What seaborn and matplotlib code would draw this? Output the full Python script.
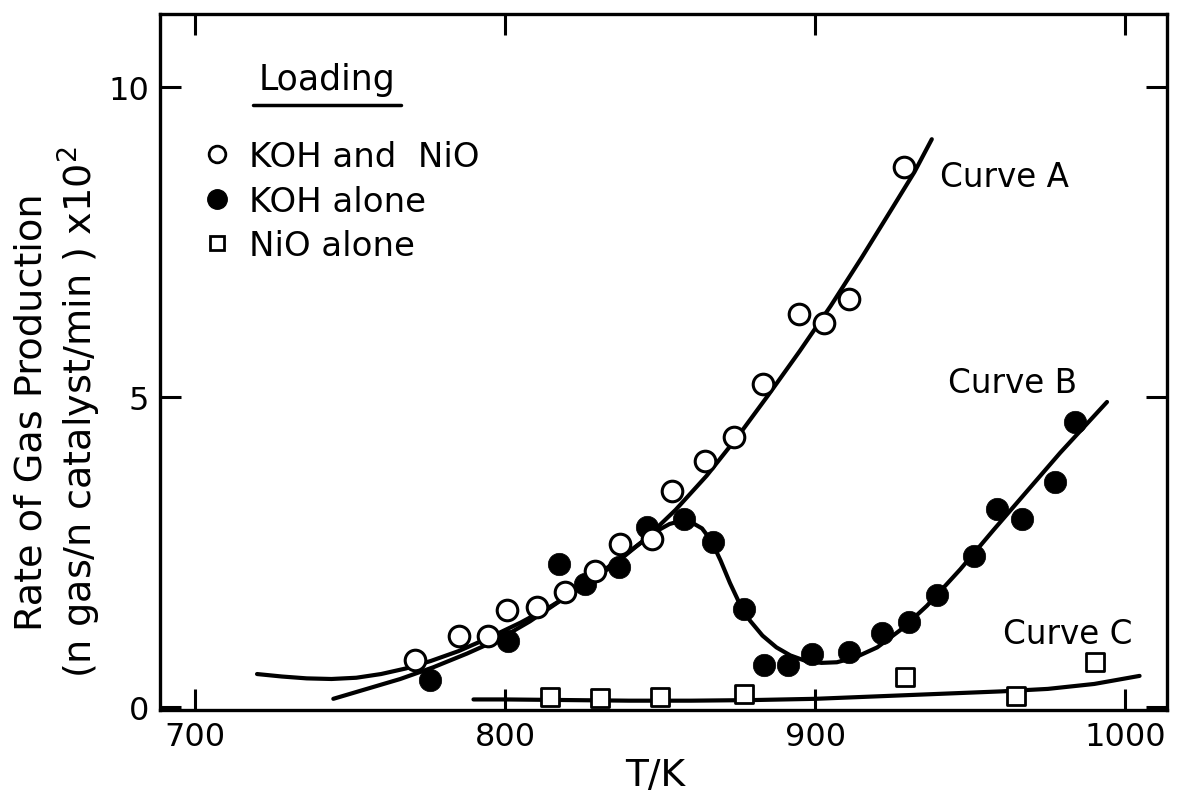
import matplotlib
matplotlib.use("Agg")
import matplotlib.pyplot as plt
import seaborn as sns
from matplotlib.lines import Line2D

# ---------------- data ----------------
koh_nio_t = [771.0, 785.1, 794.6, 800.7, 810.2, 819.4, 829.0, 837.1, 847.3,
             853.7, 864.5, 873.7, 883.3, 894.7, 902.7, 910.8, 928.5]
koh_nio_rate = [0.75, 1.14, 1.15, 1.57, 1.61, 1.85, 2.20, 2.63, 2.71,
                3.49, 3.97, 4.35, 5.21, 6.34, 6.20, 6.58, 8.71]

koh_t = [775.8, 800.9, 817.3, 825.8, 836.6, 845.7, 857.6, 867.2, 876.9,
         883.6, 891.3, 898.9, 910.8, 921.5, 930.1, 939.2, 951.1, 958.6,
         966.7, 977.4, 983.9]
koh_rate = [0.44, 1.06, 2.31, 1.99, 2.25, 2.90, 3.03, 2.66, 1.58,
            0.67, 0.67, 0.86, 0.88, 1.20, 1.37, 1.80, 2.44, 3.20,
            3.03, 3.63, 4.59]

nio_t = [814.5, 830.7, 850.0, 876.9, 929.1, 964.6, 990.3]
nio_rate = [0.16, 0.15, 0.16, 0.21, 0.48, 0.18, 0.72]

# fitted curves as traced on the figure
curve_a_t = [720, 728, 736, 744, 752, 760, 768, 776, 785, 795, 805, 815,
             825, 835, 845, 855, 865, 875, 885, 895, 905, 915, 925, 932, 937.6]
curve_a_rate = [0.53, 0.49, 0.46, 0.45, 0.47, 0.53, 0.62, 0.74, 0.90, 1.12,
                1.36, 1.63, 1.94, 2.29, 2.70, 3.18, 3.73, 4.36, 5.04, 5.74,
                6.47, 7.25, 8.06, 8.63, 9.16]

curve_b_t = [744.6, 755.4, 766.2, 776.9, 787.7, 798.4, 808.0, 818.0, 828.0,
             836.0, 843.6, 849.0, 853.0, 856.5, 860.0, 863.5, 866.5, 869.5,
             872.5, 875.5, 879.0, 883.0, 887.5, 892.0, 897.0, 902.0, 907.0,
             913.0, 920.0, 928.0, 936.0, 946.8, 957.6, 968.3, 979.0, 994.1]
curve_b_rate = [0.13, 0.29, 0.45, 0.64, 0.86, 1.10, 1.38, 1.72, 2.06,
                2.36, 2.64, 2.84, 2.95, 3.00, 2.98, 2.88, 2.68, 2.36,
                2.00, 1.68, 1.39, 1.15, 0.96, 0.83, 0.74, 0.71, 0.72,
                0.80, 0.96, 1.26, 1.63, 2.22, 2.86, 3.48, 4.10, 4.92]

curve_c_t = [789.8, 800, 820, 840, 860, 880, 900, 920, 940, 960, 975, 990, 1004.6]
curve_c_rate = [0.12, 0.12, 0.11, 0.10, 0.10, 0.11, 0.13, 0.17, 0.21, 0.25,
                0.29, 0.37, 0.50]

curve_labels = ["Curve A", "Curve B", "Curve C"]
curve_label_t = [940.3, 942.9, 960.6]
curve_label_rate = [8.56, 5.24, 1.19]

legend_labels = ["KOH and  NiO", "KOH alone", "NiO alone"]
x_ticks = [700, 800, 900, 1000]
y_ticks = [0, 5, 10]

# ---------------- style ----------------
sns.set_style("ticks")
plt.rcParams['font.family'] = ['DejaVu Sans']
plt.rcParams['axes.linewidth'] = 2.4
plt.rcParams['text.color'] = 'black'
plt.rcParams['axes.labelcolor'] = 'black'
plt.rcParams['xtick.color'] = 'black'
plt.rcParams['ytick.color'] = 'black'
plt.rcParams['axes.edgecolor'] = 'black'

fig = plt.figure(figsize=(11.78, 8.03), dpi=100)
ax = fig.add_axes([0.1358, 0.1146, 0.855, 0.8667])

lw = 3.0
for xs, ys in [(curve_a_t, curve_a_rate), (curve_b_t, curve_b_rate),
               (curve_c_t, curve_c_rate)]:
    sns.lineplot(x=xs, y=ys, sort=False, estimator=None, color="black",
                 linewidth=lw, ax=ax, legend=False, zorder=2)

sns.scatterplot(x=nio_t, y=nio_rate, marker="s", s=150, color="white",
                edgecolor="black", linewidth=2.0, ax=ax, zorder=3, legend=False)
sns.scatterplot(x=koh_t, y=koh_rate, marker="o", s=260, color="black",
                edgecolor="black", linewidth=0.5, ax=ax, zorder=3, legend=False)
sns.scatterplot(x=koh_nio_t, y=koh_nio_rate, marker="o", s=220, color="white",
                edgecolor="black", linewidth=2.2, ax=ax, zorder=4, legend=False)

for lab, tx, ty in zip(curve_labels, curve_label_t, curve_label_rate):
    ax.text(tx, ty, lab, ha="left", va="center", fontsize=23.5)

ax.set_xlim(688.7, 1013.5)
ax.set_ylim(-0.05, 11.18)
ax.set_xticks(x_ticks)
ax.set_yticks(y_ticks)
ax.tick_params(direction="in", length=15, width=2.2, top=True, right=True,
               labelsize=23, pad=8)

ax.set_xlabel("T/K", fontsize=27, labelpad=4)
ax.xaxis.set_label_coords(0.4916, -0.068)
ax.set_ylabel("Rate of Gas Production\n(n gas/n catalyst/min ) x10$^2$",
              fontsize=27.5, linespacing=1.15)
ax.yaxis.set_label_coords(-0.057, 0.43)

handles = [
    Line2D([], [], marker="o", ls="none", mfc="white", mec="black", ms=12, mew=2),
    Line2D([], [], marker="o", ls="none", mfc="black", mec="black", ms=14),
    Line2D([], [], marker="s", ls="none", mfc="white", mec="black", ms=10, mew=2),
]
ax.legend(handles, legend_labels, loc="upper left", bbox_to_anchor=(0.043, 0.819),
          frameon=False, fontsize=24.5, handlelength=0.8, handletextpad=0.55,
          labelspacing=0.34, borderpad=0, borderaxespad=0)

title = ax.text(0.166, 0.907, "Loading", transform=ax.transAxes,
                ha="center", va="center", fontsize=25)
fig.canvas.draw()
bb = title.get_window_extent().transformed(fig.transFigure.inverted())
fig.add_artist(Line2D([bb.x0 - 0.005, bb.x1 + 0.005],
                      [bb.y0 - 0.012, bb.y0 - 0.012],
                      color="black", lw=2.5, transform=fig.transFigure))

fig.savefig("out.png", dpi=100)
